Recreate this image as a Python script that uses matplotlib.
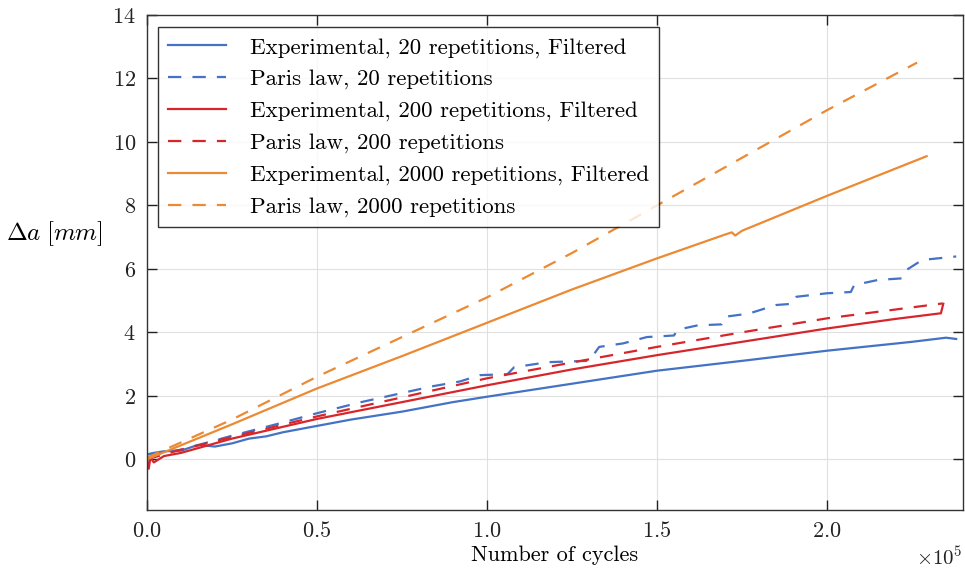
import matplotlib
matplotlib.use("Agg")
import matplotlib.pyplot as plt
import numpy as np
from matplotlib.ticker import ScalarFormatter, MultipleLocator

plt.rcParams['font.family'] = ['cmr10', 'DejaVu Serif']
plt.rcParams['mathtext.fontset'] = 'cm'
plt.rcParams['axes.unicode_minus'] = False
plt.rcParams['axes.formatter.use_mathtext'] = True

exp20_x = [0, 0.02, 0.05, 0.1, 0.15, 0.2, 0.25, 0.3, 0.35, 0.4, 0.5, 0.6, 0.75, 0.9, 1.0, 1.25, 1.5, 1.75, 2.0, 2.25, 2.35, 2.38]
exp20_y = [0.15, 0.2, 0.25, 0.27, 0.45, 0.4, 0.5, 0.65, 0.72, 0.85, 1.05, 1.25, 1.5, 1.8, 1.97, 2.38, 2.79, 3.1, 3.42, 3.7, 3.83, 3.79]

paris20_x = [0, 0.1, 0.25, 0.39, 0.5, 0.63, 0.76, 0.84, 0.92, 0.98, 1.06, 1.08, 1.18, 1.30, 1.33, 1.40, 1.47, 1.55, 1.56, 1.62, 1.69, 1.70, 1.77, 1.85, 1.90, 1.91, 2.0, 2.07, 2.08, 2.15, 2.22, 2.23, 2.28, 2.38]
paris20_y = [0.15, 0.3, 0.74, 1.13, 1.45, 1.8, 2.11, 2.3, 2.45, 2.65, 2.68, 2.9, 3.06, 3.1, 3.54, 3.65, 3.85, 3.9, 4.08, 4.22, 4.25, 4.49, 4.59, 4.86, 4.9, 5.12, 5.23, 5.27, 5.49, 5.65, 5.7, 5.94, 6.28, 6.39]

exp200_x = [0, 0.005, 0.01, 0.02, 0.05, 0.1, 0.25, 0.5, 0.75, 1.0, 1.25, 1.5, 1.75, 2.0, 2.2, 2.335, 2.342]
exp200_y = [0.0, -0.3, 0.05, -0.1, 0.1, 0.2, 0.65, 1.27, 1.8, 2.33, 2.83, 3.28, 3.7, 4.12, 4.42, 4.6, 4.9]

paris200_x = [0, 0.1, 0.25, 0.5, 0.75, 1.0, 1.25, 1.5, 1.75, 2.0, 2.34]
paris200_y = [0.0, 0.3, 0.7, 1.35, 1.95, 2.55, 3.05, 3.54, 4.0, 4.44, 4.91]

exp2000_x = [0, 0.25, 0.5, 0.75, 1.0, 1.25, 1.5, 1.70, 1.72, 1.73, 1.75, 2.0, 2.293]
exp2000_y = [0.0, 1.1, 2.23, 3.25, 4.3, 5.35, 6.33, 7.08, 7.15, 7.05, 7.2, 8.3, 9.55]

paris2000_x = [0, 0.25, 0.5, 0.75, 1.0, 1.25, 1.5, 1.75, 2.0, 2.265]
paris2000_y = [0.05, 1.25, 2.6, 3.85, 5.1, 6.5, 8.0, 9.5, 11.0, 12.5]

labels = ["Experimental, 20 repetitions, Filtered", "Paris law, 20 repetitions",
          "Experimental, 200 repetitions, Filtered", "Paris law, 200 repetitions",
          "Experimental, 2000 repetitions, Filtered", "Paris law, 2000 repetitions"]

blue = '#4472c4'
red = '#d7262b'
orange = '#ec8a34'

fig = plt.figure(figsize=(9.65, 5.77), dpi=100)
ax = fig.add_axes([147/965, 1-510/577, 816/965, 495/577])

scale = 1e5
series = [(exp20_x, exp20_y, blue, '-'), (paris20_x, paris20_y, blue, '--'),
          (exp200_x, exp200_y, red, '-'), (paris200_x, paris200_y, red, '--'),
          (exp2000_x, exp2000_y, orange, '-'), (paris2000_x, paris2000_y, orange, '--')]
for (xs, ys, c, ls), lab in zip(series, labels):
    kw = dict(color=c, lw=1.6, label=lab)
    if ls == '--':
        kw['dashes'] = (6.0, 5.0)
    ax.plot(np.array(xs) * scale, ys, **kw)

ax.set_xlim(0, 2.4e5)
ax.set_ylim(-1.6, 14)
ax.yaxis.set_major_locator(MultipleLocator(2))
ax.xaxis.set_major_locator(MultipleLocator(0.5e5))
fmt = ScalarFormatter(useMathText=True)
fmt.set_powerlimits((0, 0))
ax.xaxis.set_major_formatter(fmt)
ax.xaxis.get_offset_text().set_fontsize(15)

ax.grid(True, color='#e0e0e0', lw=0.8)
ax.set_axisbelow(True)
ax.tick_params(direction='in', length=7, width=1, top=True, right=True, labelsize=16, colors='#222222', pad=8)
for s in ax.spines.values():
    s.set_color('#333333')
    s.set_linewidth(1.0)

ax.set_xlabel("Number of cycles", fontsize=16, labelpad=3)
ax.set_ylabel(r"$\Delta a\;[mm]$", fontsize=18, rotation=0)
ax.yaxis.set_label_coords(-0.113, 0.53)

leg = ax.legend(loc='upper left', bbox_to_anchor=(0.0135, 0.976), borderaxespad=0,
                fontsize=16.5, frameon=True, fancybox=False, edgecolor='black',
                handlelength=2.5, handletextpad=1.05, labelspacing=0.5, borderpad=0.45)
leg.get_frame().set_linewidth(1.0)

fig.savefig("out.png", dpi=100)
